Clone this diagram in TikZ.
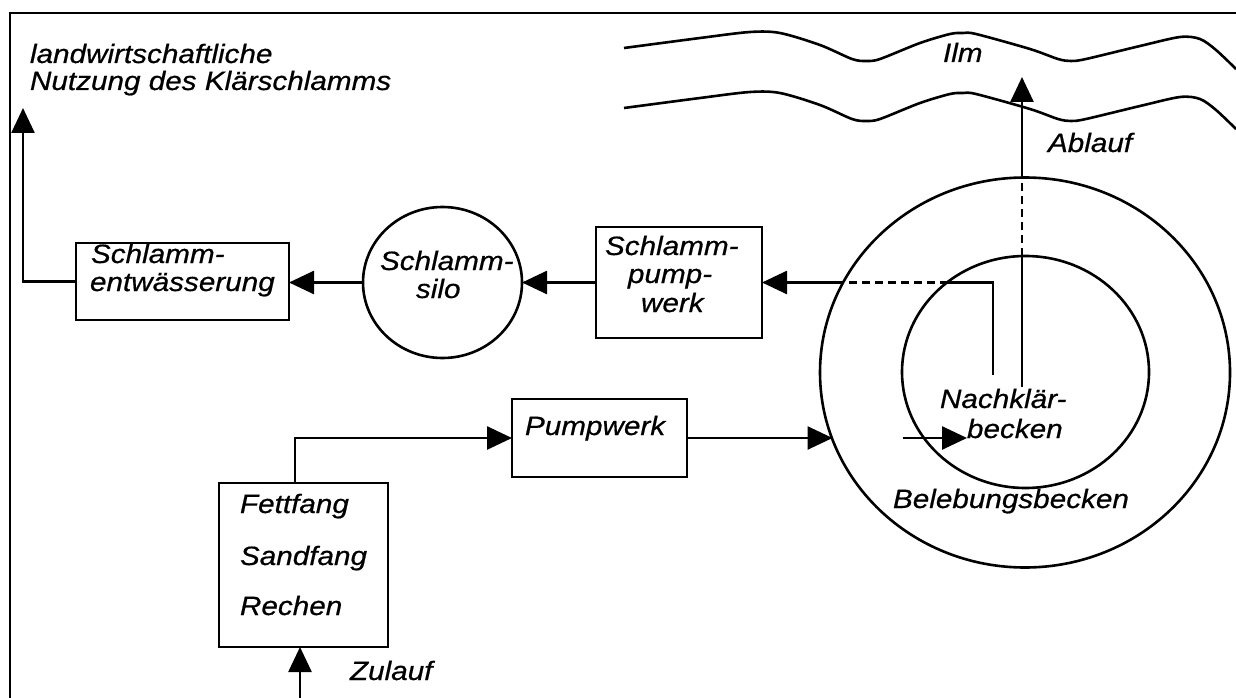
\documentclass[tikz,border=0pt]{standalone}
\usepackage{fontspec}
\setmainfont{Liberation Sans}[FakeStretch=1.12,FakeBold=0.6]
\usetikzlibrary{arrows.meta,shapes.geometric}
\begin{document}
\begin{tikzpicture}[x=1pt,y=-1pt,
  every node/.style={inner sep=0pt, outer sep=0pt},
  lbl/.style={font=\fontsize{26.5}{28}\selectfont\itshape, anchor=base west},
  box/.style={draw, line width=2.6pt, rectangle},
  tank/.style={draw, line width=2.6pt, ellipse},
  conn/.style={line width=2.6pt},
  arr/.style={line width=2.6pt, -{Triangle[length=25pt,width=23pt]}},
  dsh/.style={line width=2.6pt, dash pattern=on 8pt off 5pt},
]
\useasboundingbox (0,0) rectangle (1236,698);
\fill[white] (0,0) rectangle (1236,698);
% frame
\draw[line width=1.6pt] (10,698) -- (10,13) -- (1236,13);

% river Ilm
\draw[conn] plot[smooth, tension=0.5] coordinates {(624,48) (700,38) (750,32) (780,33) (820,45) (852,59) (866,61) (880,59) (920,43) (950,34) (963,33) (976,34) (1030,49) (1058,59) (1071,61) (1086,59) (1140,46) (1180,37) (1200,39) (1216,50) (1236,69)};
\draw[conn] plot[smooth, tension=0.5] coordinates {(624,108) (700,98) (750,92) (780,93) (820,105) (852,119) (866,121) (880,119) (920,103) (950,94) (963,93) (976,94) (1030,109) (1058,119) (1071,121) (1086,119) (1140,106) (1180,97) (1200,99) (1216,110) (1236,129)};
\node[lbl] (ilm) at (943,62) {Ilm};
\node[lbl] (ablauf) at (1048,152) {Ablauf};

% top-left text
\node[lbl] (t1) at (30,63) {landwirtschaftliche};
\node[lbl] (t2) at (30,90) {Nutzung des Klärschlamms};

% boxes and tanks
\node[box, minimum width=213pt, minimum height=77pt] (entw) at (182.5,281.5) {};
\node[lbl] (entwa) at (91,263) {Schlamm-};
\node[lbl] (entwb) at (90,291) {entwässerung};

\node[tank, minimum width=159pt, minimum height=151pt] (silo) at (442.5,282.5) {};
\node[lbl] (siloa) at (380,270) {Schlamm-};
\node[lbl] (silob) at (416,298) {silo};

\node[box, minimum width=166pt, minimum height=111pt] (spw) at (679,282.5) {};
\node[lbl] (spwa) at (605,255) {Schlamm-};
\node[lbl] (spwb) at (628,283) {pump-};
\node[lbl] (spwc) at (641,312) {werk};

\node[box, minimum width=175pt, minimum height=78pt] (pw) at (599.5,438) {};
\node[lbl] (pwa) at (525,435) {Pumpwerk};

\node[box, minimum width=169pt, minimum height=164pt] (fett) at (303.5,565) {};
\node[lbl] (fa) at (240,513) {Fettfang};
\node[lbl] (fb) at (240,565) {Sandfang};
\node[lbl] (fc) at (240,615) {Rechen};
\node[lbl] (zul) at (350,680) {Zulauf};

\node[tank, minimum width=410pt, minimum height=390pt] (outer) at (1025,372.5) {};
\node[tank, minimum width=247pt, minimum height=232pt] (inner) at (1025.5,372) {};
\node[lbl] (na) at (940,408) {Nachklär-};
\node[lbl] (nb) at (967,438) {becken};
\node[lbl] (bb) at (893,508) {Belebungsbecken};

% connectors
\coordinate (useEnd) at (23,108);
\draw[arr] (entw.west) -| (useEnd);
\draw[arr] (silo.west) -- (silo.west -| entw.east);
\draw[arr] (spw.west) -- (spw.west -| silo.east);

\coordinate (rc) at (993,375);
\coordinate (ri) at (947.6,282.5);
\coordinate (ro) at (843.4,282.5);
\draw[conn] (rc) |- (ri);
\draw[dsh] (ri) -- (ro);
\draw[arr] (ro) -- (ro -| spw.east);

\coordinate (ab) at (1022,387);
\coordinate (abi) at (1022,256);
\coordinate (abo) at (1022,177.6);
\coordinate (ilmEnd) at (1022,77);
\draw[conn] (ab) -- (abi);
\draw[dsh] (abi) -- (abo);
\draw[arr] (abo) -- (ilmEnd);

\draw[arr] ([xshift=-8.5pt]fett.north) |- (pw.west);
\coordinate (oin) at (832.5,438);
\draw[arr] (pw.east) -- (oin);
\coordinate (ia) at (903,438);
\coordinate (ib) at (967,438);
\draw[arr] (ia) -- (ib);
\coordinate (zu) at (300,698);
\draw[arr] (zu) -- (zu |- fett.south);
\end{tikzpicture}
\end{document}
